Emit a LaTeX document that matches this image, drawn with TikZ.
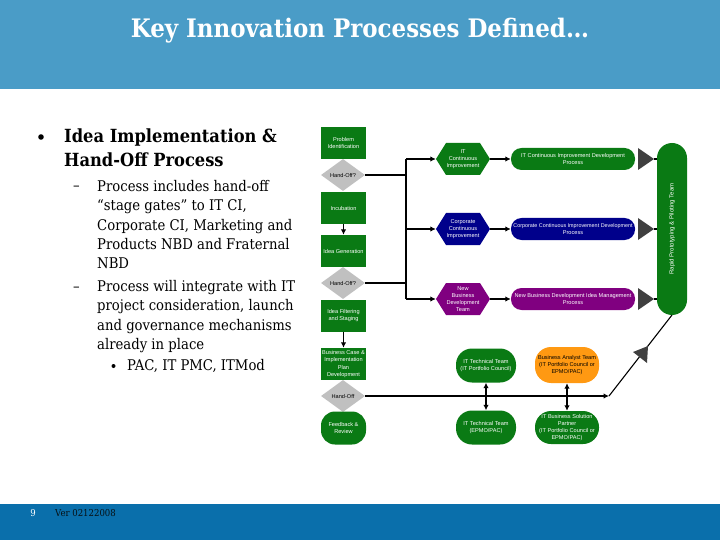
\documentclass[tikz,border=0pt]{standalone}
\usepackage{fontspec}
\setmainfont{DejaVu Serif Condensed}
\setsansfont{Liberation Sans}
\usetikzlibrary{shapes.geometric,arrows.meta}
\definecolor{hdr}{HTML}{4A9CC7}
\definecolor{ftr}{HTML}{0A6FAB}
\definecolor{grn}{HTML}{0A7A14}
\definecolor{nvy}{HTML}{00008B}
\definecolor{prp}{HTML}{800080}
\definecolor{org}{HTML}{FF9912}
\definecolor{gry}{HTML}{C0C0C0}
\definecolor{tri}{HTML}{404040}
\tikzset{
 lbl/.style={font=\sffamily\fontsize{5.6}{7.2}\selectfont,align=center,text=white,inner sep=0pt},
 sq/.style={lbl,fill=grn,minimum width=45pt,minimum height=32pt},
 dia/.style={lbl,text=black,fill=gry,diamond,aspect=1.35,minimum width=44pt,minimum height=32pt},
 proc/.style={lbl,rounded corners=10.5pt,minimum width=124pt,minimum height=22pt},
 pill/.style={lbl,fill=grn,rounded corners=16pt,minimum width=60pt,minimum height=34pt},
 tipt/.style={fill=tri,draw=none},
 conn/.style={draw=black,line width=1.1pt},
 arr/.style={conn,-{Latex[length=5.5pt,width=5.5pt]}},
 darr/.style={conn,{Latex[length=5.5pt,width=5.5pt]}-{Latex[length=5.5pt,width=5.5pt]}},
 body/.style={anchor=north west,inner sep=0pt,align=left,text=black},
 bodyf/.style={body,font=\fontsize{14.7}{19.4}\selectfont},
 bodys/.style={anchor=base west,inner sep=0pt,text=black,font=\fontsize{14.7}{19.4}\selectfont},
}
\begin{document}
\begin{tikzpicture}[x=1pt,y=-1pt]
\useasboundingbox (0,0) rectangle (720,540);
\fill[white] (0,0) rectangle (720,540);
\fill[hdr] (0,0) rectangle (720,89);
\fill[ftr] (0,504) rectangle (720,540);
\node[text=white,font=\fontsize{25.5}{30}\selectfont\bfseries,inner sep=0pt] (title) at (360,31) {Key Innovation Processes Defined…};
\node[body,font=\fontsize{18.1}{24}\selectfont\bfseries] (h1) at (64,129) {Idea Implementation \&\\Hand-Off Process};
\fill (41,137) circle (2.8pt);
\node[bodyf] (t1) at (97,180) {Process includes hand-off\\“stage gates” to IT CI,\\Corporate CI, Marketing and\\Products NBD and Fraternal\\NBD};
\node[bodys] (d1) at (73,191) {–};
\node[bodyf] (t2) at (97,280) {Process will integrate with IT\\project consideration, launch\\and governance mechanisms\\already in place};
\node[bodys] (d2) at (73,291) {–};
\node[bodys] (t3) at (127,370.5) {PAC, IT PMC, ITMod};
\fill (113.5,366) circle (2pt);
\node[text=white,font=\fontsize{9.5}{12}\selectfont,inner sep=0pt] (pg) at (33,513) {9};
\node[text=hdr!10!black,font=\fontsize{9.5}{12}\selectfont,anchor=west,inner sep=0pt] (ver) at (55,513) {Ver 02122008};
% left column
\node[sq] (pi) at (343.5,143) {Problem\\Identification};
\node[dia] (h1d) at (343,175) {Hand-Off?};
\node[sq] (inc) at (343.5,208) {Incubation};
\node[sq] (ig) at (343.5,251) {Idea Generation};
\node[dia] (h2d) at (343,283) {Hand-Off?};
\node[sq] (if) at (343.5,315.5) {Idea Filtering\\and Staging};
\node[sq] (bc) at (343.5,364) {Business Case \&\\Implementation\\Plan\\Development};
\node[dia] (h3d) at (343,396) {Hand-Off};
\node[lbl,fill=grn,rounded corners=14pt,minimum width=45pt,minimum height=33pt] (fb) at (343.5,428) {Feedback \&\\Review};
% hexagons
\path[fill=grn] (436,159)--(446,143)--(480,143)--(490,159)--(480,175)--(446,175)--cycle;
\path[fill=nvy] (436,229)--(446,213)--(480,213)--(490,229)--(480,245)--(446,245)--cycle;
\path[fill=prp] (436,299)--(446,283)--(480,283)--(490,299)--(480,315)--(446,315)--cycle;
\node[lbl,text width=54pt,minimum height=32pt] (hit) at (463,159) {IT\\Continuous\\Improvement};
\node[lbl,text width=54pt,minimum height=32pt] (hco) at (463,229) {Corporate\\Continuous\\Improvement};
\node[lbl,text width=54pt,minimum height=32pt] (hnb) at (463,299) {New\\Business\\Development\\Team};
% processes
\node[proc,fill=grn] (p1) at (573,159) {IT Continuous Improvement Development\\Process};
\node[proc,fill=nvy] (p2) at (573,229) {\fontsize{5.4}{7.2}\selectfont Corporate Continuous Improvement Development\\Process};
\node[proc,fill=prp] (p3) at (573,299) {New Business Development Idea Management\\Process};
% tall
\node[lbl,fill=grn,rounded corners=15pt,minimum width=30pt,minimum height=172pt] (tall) at (672,229) {};
\node[lbl,rotate=90,font=\sffamily\fontsize{6}{7}\selectfont] (tallt) at (672,229) {Rapid Prototyping \& Piloting Team};
% pills
\node[pill] (itpc) at (486,365.5) {IT Technical Team\\(IT Portfolio Council)};
\node[pill] (itep) at (486,427.5) {IT Technical Team\\(EPMO/PAC)};
\node[pill,fill=org,text=black,minimum width=64pt,minimum height=36pt] (ba) at (567,365) {Business Analyst Team\\(IT Portfolio Council or\\EPMO/PAC)};
\node[pill,minimum width=64pt,minimum height=33pt] (bs) at (567,427.5) {IT Business Solution\\Partner\\(IT Portfolio Council or\\EPMO/PAC)};
% connectors
\coordinate (trk) at (406,229);
\coordinate (elb) at (609,396);
\draw[conn] (h1d.east) -- (406,175);
\draw[conn] (h2d.east) -- (406,283);
\draw[conn] (406,159) -- (406,299);
\draw[arr] (406,159) -- (hit.west);
\draw[arr] (trk) -- (hco.west);
\draw[arr] (406,299) -- (hnb.west);
\draw[arr] (hit.east) -- (p1.west);
\draw[arr] (hco.east) -- (p2.west);
\draw[arr] (hnb.east) -- (p3.west);
\draw[arr] (inc.south) -- (ig.north);
\draw[arr] (if.south) -- (bc.north);
\draw[darr] (itpc.south) -- (itep.north);
\draw[darr] (ba.south) -- (bs.north);
\draw[arr] (h3d.east) -- (elb);
\draw[conn] (elb) -- (672,315);
\draw[conn] (654,159) -- (657,159);
\draw[conn] (654,229) -- (657,229);
\draw[conn] (654,299) -- (657,299);
\fill[tipt] (638,148)--(654,159)--(638,170)--cycle;
\fill[tipt] (638,218)--(654,229)--(638,240)--cycle;
\fill[tipt] (638,288)--(654,299)--(638,310)--cycle;
\fill[tipt] (633,352)--(648,346)--(647,363)--cycle;
\end{tikzpicture}
\end{document}
